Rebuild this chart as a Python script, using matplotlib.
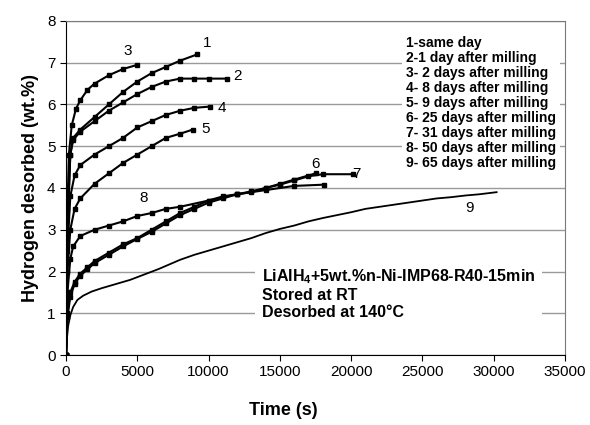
import matplotlib
matplotlib.use('Agg')
import matplotlib.pyplot as plt

plt.rcParams['font.family'] = ['Liberation Sans', 'DejaVu Sans']

# --- data (time in s, H2 in wt.%) ---
t1 = [0, 100, 300, 500, 1000, 2000, 3000, 4000, 5000, 6000, 7000, 8000, 9200]
w1 = [0, 3.0, 4.8, 5.2, 5.4, 5.7, 6.0, 6.3, 6.55, 6.75, 6.9, 7.05, 7.2]

t2 = [0, 100, 300, 500, 1000, 2000, 3000, 4000, 5000, 6000, 7000, 8000, 9000, 10000, 11300]
w2 = [0, 3.0, 4.8, 5.15, 5.35, 5.6, 5.85, 6.05, 6.25, 6.42, 6.55, 6.62, 6.62, 6.62, 6.62]

t3 = [0, 100, 200, 400, 700, 1000, 1500, 2000, 3000, 4000, 5000]
w3 = [0, 3.5, 4.8, 5.5, 5.9, 6.1, 6.35, 6.5, 6.7, 6.85, 6.95]

t4 = [0, 100, 300, 600, 1000, 2000, 3000, 4000, 5000, 6000, 7000, 8000, 9000, 10100]
w4 = [0, 2.5, 3.8, 4.3, 4.55, 4.8, 5.0, 5.2, 5.45, 5.6, 5.75, 5.85, 5.92, 5.95]

t5 = [0, 100, 300, 600, 1000, 2000, 3000, 4000, 5000, 6000, 7000, 8000, 8900]
w5 = [0, 2.0, 3.0, 3.5, 3.75, 4.1, 4.35, 4.6, 4.8, 5.0, 5.2, 5.3, 5.4]

t6 = [0, 100, 300, 600, 1000, 1500, 2000, 3000, 4000, 5000, 6000, 7000, 8000,
      9000, 10000, 11000, 12000, 13000, 14000, 15000, 16000, 17500]
w6 = [0, 1.0, 1.5, 1.75, 1.95, 2.1, 2.25, 2.45, 2.65, 2.8, 3.0, 3.2, 3.4,
      3.55, 3.7, 3.8, 3.85, 3.92, 4.0, 4.1, 4.2, 4.35]

t7 = [0, 100, 300, 600, 1000, 1500, 2000, 3000, 4000, 5000, 6000, 7000, 8000,
      9000, 10000, 11000, 12000, 13000, 14000, 15000, 16000, 17000, 18000, 20100]
w7 = [0, 0.9, 1.4, 1.7, 1.9, 2.05, 2.2, 2.4, 2.6, 2.78, 2.95, 3.15, 3.35,
      3.5, 3.65, 3.75, 3.85, 3.9, 4.0, 4.08, 4.18, 4.28, 4.33, 4.33]

t8 = [0, 100, 300, 500, 1000, 2000, 3000, 4000, 5000, 6000, 7000, 8000,
      10000, 12000, 14000, 16000, 18100]
w8 = [0, 1.5, 2.3, 2.6, 2.85, 3.0, 3.1, 3.2, 3.33, 3.4, 3.5, 3.55,
      3.7, 3.85, 3.95, 4.05, 4.08]

t9 = [0, 50, 150, 300, 500, 800, 1200, 1800, 2500, 3500, 4500, 5500, 6500, 8000,
      9000, 10000, 11000, 12000, 13000, 14000, 15000, 16000, 17000, 18000, 19000,
      20000, 21000, 22000, 23000, 24000, 25000, 26000, 27000, 28000, 29000, 30200]
w9 = [0, 0.35, 0.7, 0.95, 1.15, 1.32, 1.42, 1.52, 1.6, 1.7, 1.8, 1.93, 2.06, 2.28,
      2.4, 2.5, 2.6, 2.7, 2.8, 2.92, 3.02, 3.1, 3.2, 3.28, 3.35,
      3.42, 3.5, 3.55, 3.6, 3.65, 3.7, 3.75, 3.78, 3.82, 3.85, 3.9]

curve_labels = ['1', '2', '3', '4', '5', '6', '7', '8', '9']
label_t = [9890, 12060, 4350, 10940, 9820, 17530, 20400, 5470, 28330]
label_w = [7.47, 6.68, 7.28, 5.92, 5.41, 4.57, 4.33, 3.76, 3.52]

legend_lines = ['1-same day',
                '2-1 day after milling',
                '3- 2 days after milling',
                '4- 8 days after milling',
                '5- 9 days after milling',
                '6- 25 days after milling',
                '7- 31 days after milling',
                '8- 50 days after milling',
                '9- 65 days after milling']

note_lines = ['LiAlH$_\\mathregular{4}$+5wt.%n-Ni-IMP68-R40-15min',
              'Stored at RT',
              'Desorbed at 140\u00b0C']


def main():
    fig = plt.figure(figsize=(5.9, 4.25), dpi=100)
    ax = fig.add_axes([0.1119, 0.1647, 0.8458, 0.7859])

    ax.grid(True, axis='y', color='#9a9a9a', linewidth=1.0)
    ax.set_axisbelow(True)

    stepped = [(t1, w1), (t2, w2), (t3, w3), (t4, w4), (t5, w5),
               (t6, w6), (t7, w7), (t8, w8)]
    for t, w in stepped:
        ax.plot(t, w, color='black', linewidth=1.5, marker='s',
                markersize=3.5, zorder=3)
    ax.plot(t9, w9, color='black', linewidth=1.3, zorder=3)

    for lab, x, y in zip(curve_labels, label_t, label_w):
        ax.text(x, y, lab, fontsize=11, ha='center', va='center', zorder=4)

    ax.text(23840, 7.64, '\n'.join(legend_lines), fontsize=10, fontweight='bold',
            ha='left', va='top', linespacing=1.09, zorder=2,
            bbox=dict(facecolor='white', edgecolor='none', pad=3))
    ax.text(13740, 2.1, '\n'.join(note_lines), fontsize=11.5, fontweight='bold',
            ha='left', va='top', linespacing=1.18, zorder=2,
            bbox=dict(facecolor='white', edgecolor='none', pad=5))

    ax.set_xlim(0, 35000)
    ax.set_ylim(0, 8)
    ax.set_xticks(range(0, 35001, 5000))
    ax.set_yticks(range(0, 9))
    ax.tick_params(direction='out', length=4, labelsize=11, colors='black')

    for side in ['top', 'right']:
        ax.spines[side].set_color('#7a7a7a')
    for side in ['left', 'bottom']:
        ax.spines[side].set_color('black')

    ax.set_xlabel('Time (s)', fontsize=13, fontweight='bold')
    ax.xaxis.set_label_coords(0.435, -0.14)
    ax.set_ylabel('Hydrogen desorbed (wt.%)', fontsize=13, fontweight='bold', labelpad=6)

    fig.savefig('out.png', dpi=100)
    plt.close(fig)


if __name__ == '__main__':
    main()
